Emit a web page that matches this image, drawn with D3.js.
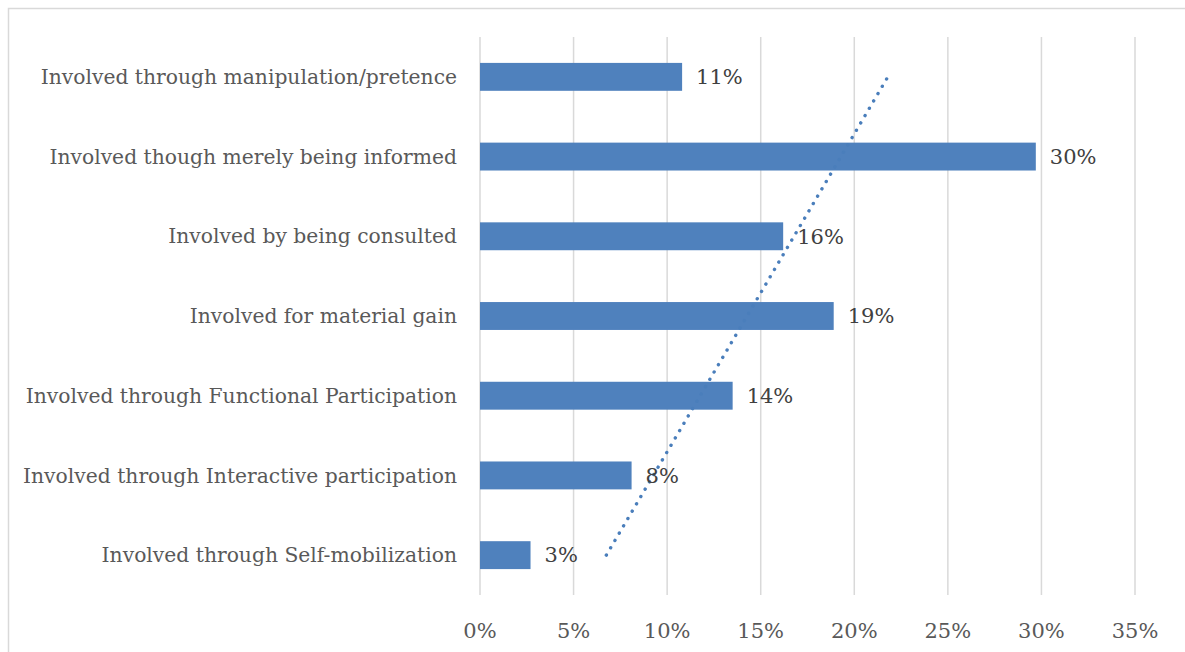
<!DOCTYPE html>
<style>
body { margin: 0; background: #fff; }
svg { font-family: "DejaVu Serif", "Liberation Serif", serif; }
</style>
<svg width="1185" height="652"></svg>
<script src="https://d3js.org/d3.v7.min.js"></script>
<script>
// categories top to bottom as shown
var categories = [
  "Involved through manipulation/pretence",
  "Involved though merely being informed",
  "Involved by being consulted",
  "Involved for material gain",
  "Involved through Functional Participation",
  "Involved through Interactive participation",
  "Involved through Self-mobilization"
];
var values = [10.8, 29.7, 16.2, 18.9, 13.5, 8.1, 2.7];
var labels = ["11%", "30%", "16%", "19%", "14%", "8%", "3%"];
var xTicks = [0, 5, 10, 15, 20, 25, 30, 35];

var svg = d3.select("svg");

// chart frame
svg.append("rect")
    .attr("x", 8.5).attr("y", 8.5)
    .attr("width", 1185).attr("height", 700)
    .attr("fill", "none").attr("stroke", "#d9d9d9").attr("stroke-width", 1.5);

var x = d3.scaleLinear().domain([0, 35]).range([480, 1135]);
var y = d3.scaleBand().domain(categories).range([37, 595]).paddingInner(0.65).paddingOuter(0.325);

// gridlines
svg.append("g").selectAll("line")
  .data(xTicks)
  .enter().append("line")
    .attr("x1", function(d) { return x(d); })
    .attr("x2", function(d) { return x(d); })
    .attr("y1", 37).attr("y2", 595)
    .attr("stroke", "#d9d9d9").attr("stroke-width", 1.5);

// tick labels
svg.append("g").selectAll("text")
  .data(xTicks)
  .enter().append("text")
    .attr("x", function(d) { return x(d); })
    .attr("y", 638)
    .attr("text-anchor", "middle")
    .attr("font-size", 21)
    .attr("fill", "#595959")
    .text(function(d) { return d + "%"; });

// bars
svg.append("g").selectAll("rect")
  .data(values)
  .enter().append("rect")
    .attr("x", x(0))
    .attr("y", function(d, i) { return y(categories[i]); })
    .attr("width", function(d) { return x(d) - x(0); })
    .attr("height", y.bandwidth())
    .attr("fill", "#4f81bd");

// category labels
svg.append("g").selectAll("text")
  .data(categories)
  .enter().append("text")
    .attr("x", 457)
    .attr("y", function(d) { return y(d) + y.bandwidth() / 2; })
    .attr("dy", "0.35em")
    .attr("text-anchor", "end")
    .attr("font-size", 20.3)
    .attr("fill", "#595959")
    .text(function(d) { return d; });

// linear trendline (Excel style, x = category index from bottom)
var n = values.length;
var pts = values.slice().reverse().map(function(v, i) { return [i + 1, v]; });
var mx = d3.mean(pts, function(p) { return p[0]; });
var my = d3.mean(pts, function(p) { return p[1]; });
var sxy = d3.sum(pts, function(p) { return (p[0] - mx) * (p[1] - my); });
var sxx = d3.sum(pts, function(p) { return (p[0] - mx) * (p[0] - mx); });
var slope = sxy / sxx, icpt = my - slope * mx;
function catY(idx) { return y(categories[n - idx]) + y.bandwidth() / 2; }
svg.append("line")
    .attr("x1", x(icpt + slope * 1)).attr("y1", catY(1))
    .attr("x2", x(icpt + slope * n)).attr("y2", catY(n))
    .attr("stroke", "#4a7ebb")
    .attr("stroke-width", 3.4)
    .attr("stroke-linecap", "round")
    .attr("stroke-dasharray", "0.1 8.4");

// data labels
svg.append("g").selectAll("text")
  .data(values)
  .enter().append("text")
    .attr("x", function(d) { return x(d) + 14; })
    .attr("y", function(d, i) { return y(categories[i]) + y.bandwidth() / 2; })
    .attr("dy", "0.35em")
    .attr("font-size", 21)
    .attr("fill", "#404040")
    .text(function(d, i) { return labels[i]; });
</script>
